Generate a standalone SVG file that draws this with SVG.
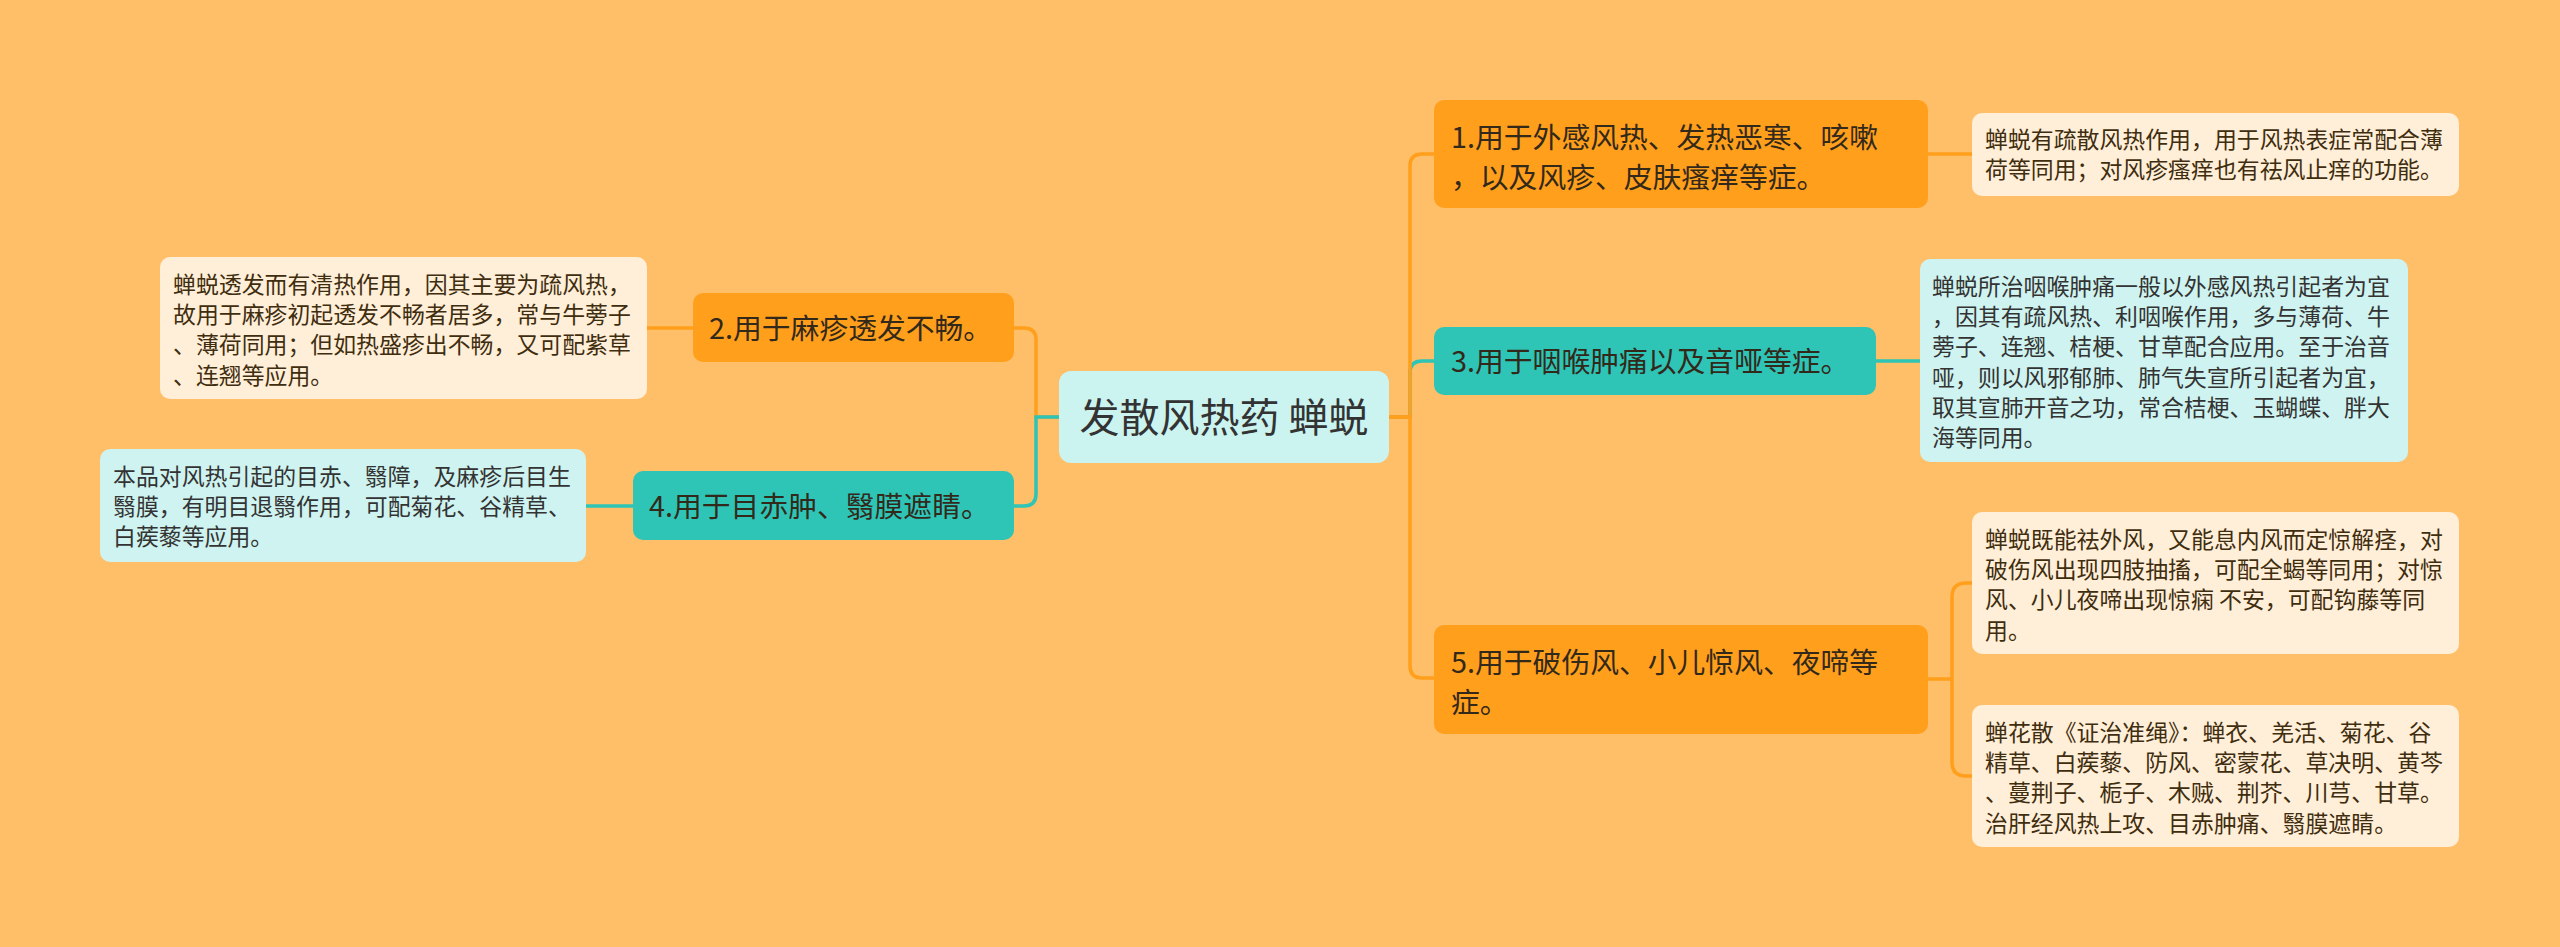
<svg xmlns="http://www.w3.org/2000/svg" width="2560" height="947" viewBox="0 0 2560 947">
<style>
text{font-family:"Noto Sans CJK SC","Noto Sans",sans-serif;}
.c{fill:none;stroke-width:3.5;}
.co{stroke:#FF9F1C;}
.ct{stroke:#2EC4B6;}
.no{fill:#FF9F1C;}
.nt{fill:#2EC4B6;}
.lc{fill:#FFEFD8;}
.lt{fill:#CFF3F0;}
.tn{font-size:28.8px;fill:#33291a;}
.tl{font-size:22.9px;}
.tlc{fill:#3f2d0f;}
.tlt{fill:#333333;}
.tc{font-size:40px;fill:#333333;}
</style>
<rect width="2560" height="947" fill="#FFBF69"/>
<g id="connectors">
<path class="c ct" d="M1389,417 H1410 V373 Q1410,361 1422,361 H1434"/>
<path class="c co" d="M1389,417 H1410 V166 Q1410,154 1422,154 H1434"/>
<path class="c co" d="M1389,417 H1410 V666 Q1410,678 1422,678 H1434"/>
<path class="c co" d="M1059,417 H1036 V340 Q1036,328 1024,328 H1014"/>
<path class="c ct" d="M1059,417 H1036 V494 Q1036,506 1024,506 H1014"/>
<path class="c co" d="M1928,154 H1972"/>
<path class="c ct" d="M1876,361 H1920"/>
<path class="c co" d="M1928,679 H1952 V597 Q1952,583 1966,583 H1972"/>
<path class="c co" d="M1952,679 V762 Q1952,776 1966,776 H1972"/>
<path class="c co" d="M693,328 H647"/>
<path class="c ct" d="M633,506 H586"/>
</g>
<g id="center">
<rect x="1059" y="371" width="330" height="92" rx="12" fill="#CBF3F0"/>
<text class="tc" x="1224" y="432" text-anchor="middle">发散风热药 蝉蜕</text>
</g>
<g id="n1">
<rect class="no" x="1434" y="100" width="494" height="108" rx="10"/>
<text class="tn" x="1451" y="148">1.用于外感风热、发热恶寒、咳嗽</text>
<text class="tn" x="1451" y="188">，以及风疹、皮肤瘙痒等症。</text>
</g>
<g id="n1a">
<rect class="lc" x="1972" y="113" width="487" height="83" rx="10"/>
<text class="tl tlc" x="1985" y="148">蝉蜕有疏散风热作用，用于风热表症常配合薄</text>
<text class="tl tlc" x="1985" y="178">荷等同用；对风疹瘙痒也有祛风止痒的功能。</text>
</g>
<g id="n3">
<rect class="nt" x="1434" y="327" width="442" height="68" rx="10"/>
<text class="tn" x="1451" y="372">3.用于咽喉肿痛以及音哑等症。</text>
</g>
<g id="n3a">
<rect class="lt" x="1920" y="259" width="488" height="203" rx="10"/>
<text class="tl tlt" x="1932" y="295">蝉蜕所治咽喉肿痛一般以外感风热引起者为宜</text>
<text class="tl tlt" x="1932" y="325.2">，因其有疏风热、利咽喉作用，多与薄荷、牛</text>
<text class="tl tlt" x="1932" y="355.4">蒡子、连翘、桔梗、甘草配合应用。至于治音</text>
<text class="tl tlt" x="1932" y="385.6">哑，则以风邪郁肺、肺气失宣所引起者为宜，</text>
<text class="tl tlt" x="1932" y="415.8">取其宣肺开音之功，常合桔梗、玉蝴蝶、胖大</text>
<text class="tl tlt" x="1932" y="446">海等同用。</text>
</g>
<g id="n5">
<rect class="no" x="1434" y="625" width="494" height="109" rx="10"/>
<text class="tn" x="1451" y="673">5.用于破伤风、小儿惊风、夜啼等</text>
<text class="tn" x="1451" y="713">症。</text>
</g>
<g id="n5a">
<rect class="lc" x="1972" y="512" width="487" height="142" rx="10"/>
<text class="tl tlc" x="1985" y="548">蝉蜕既能祛外风，又能息内风而定惊解痉，对</text>
<text class="tl tlc" x="1985" y="578.2">破伤风出现四肢抽搐，可配全蝎等同用；对惊</text>
<text class="tl tlc" x="1985" y="608.4">风、小儿夜啼出现惊痫 不安，可配钩藤等同</text>
<text class="tl tlc" x="1985" y="638.6">用。</text>
</g>
<g id="n5b">
<rect class="lc" x="1972" y="705" width="487" height="142" rx="10"/>
<text class="tl tlc" x="1985" y="741">蝉花散《证治准绳》：蝉衣、羌活、菊花、谷</text>
<text class="tl tlc" x="1985" y="771.2">精草、白蒺藜、防风、密蒙花、草决明、黄芩</text>
<text class="tl tlc" x="1985" y="801.4">、蔓荆子、栀子、木贼、荆芥、川芎、甘草。</text>
<text class="tl tlc" x="1985" y="831.6">治肝经风热上攻、目赤肿痛、翳膜遮睛。</text>
</g>
<g id="n2">
<rect class="no" x="693" y="293" width="321" height="69" rx="10"/>
<text class="tn" x="709" y="339">2.用于麻疹透发不畅。</text>
</g>
<g id="n2a">
<rect class="lc" x="160" y="257" width="487" height="142" rx="10"/>
<text class="tl tlc" x="173" y="293">蝉蜕透发而有清热作用，因其主要为疏风热，</text>
<text class="tl tlc" x="173" y="323.2">故用于麻疹初起透发不畅者居多，常与牛蒡子</text>
<text class="tl tlc" x="173" y="353.4">、薄荷同用；但如热盛疹出不畅，又可配紫草</text>
<text class="tl tlc" x="173" y="383.6">、连翘等应用。</text>
</g>
<g id="n4">
<rect class="nt" x="633" y="471" width="381" height="69" rx="10"/>
<text class="tn" x="649" y="517">4.用于目赤肿、翳膜遮睛。</text>
</g>
<g id="n4a">
<rect class="lt" x="100" y="449" width="486" height="113" rx="10"/>
<text class="tl tlt" x="113" y="485">本品对风热引起的目赤、翳障，及麻疹后目生</text>
<text class="tl tlt" x="113" y="515.2">翳膜，有明目退翳作用，可配菊花、谷精草、</text>
<text class="tl tlt" x="113" y="545.4">白蒺藜等应用。</text>
</g>
</svg>
